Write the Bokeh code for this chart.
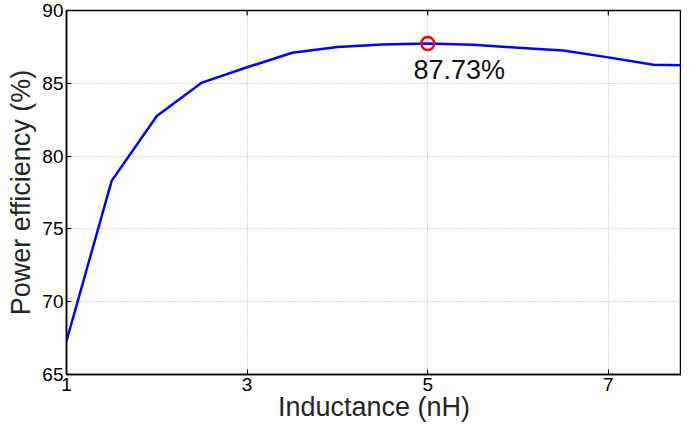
import math
from bokeh.plotting import figure
from bokeh.models import Range1d, FixedTicker, Label
from bokeh.embed import file_html
from bokeh.resources import INLINE

inductance = [1, 1.5, 2, 2.5, 3, 3.5, 4, 4.5, 5, 5.5, 6, 6.5, 7, 7.5, 8]
efficiency = [67.3, 78.3, 82.75, 85.05, 86.1, 87.1, 87.5, 87.67, 87.73,
              87.64, 87.45, 87.26, 86.78, 86.28, 86.22]
peak_x = [5]
peak_y = [87.73]
peak_label = "87.73%"
x_ticks = [1, 3, 5, 7]
y_ticks = [65, 70, 75, 80, 85, 90]
x_min, x_max = 1, 7.81
y_min, y_max = 65, 90

FONT = "Liberation Sans"

p = figure(width=681, height=424, output_backend="svg", toolbar_location=None,
           x_range=Range1d(x_min, x_max), y_range=Range1d(y_min, y_max),
           min_border_left=66, min_border_right=0, min_border_top=10,
           min_border_bottom=0, x_axis_label="Inductance (nH)",
           y_axis_label="Power efficiency (%)")

p.background_fill_color = "white"
p.border_fill_color = "white"
p.outline_line_color = "black"
p.outline_line_width = 1.5

p.xaxis.ticker = FixedTicker(ticks=x_ticks)
p.yaxis.ticker = FixedTicker(ticks=y_ticks)
for ax in (p.xaxis[0], p.yaxis[0]):
    ax.major_tick_in = 5
    ax.major_tick_out = 0
    ax.minor_tick_in = 0
    ax.minor_tick_out = 0
    ax.axis_line_color = "black"
    ax.axis_line_width = 1.5
    ax.major_tick_line_color = "black"
    ax.major_label_text_font = FONT
    ax.major_label_text_font_size = "19px"
    ax.major_label_text_color = "black"
    ax.axis_label_text_font = FONT
    ax.axis_label_text_font_size = "27px"
    ax.axis_label_text_font_style = "normal"
    ax.axis_label_text_color = "#262626"
p.xaxis.major_label_standoff = 3
p.yaxis.major_label_standoff = 3
p.xaxis.axis_label_standoff = -2
p.yaxis.axis_label_standoff = 3

p.xgrid.ticker = FixedTicker(ticks=x_ticks)
p.ygrid.ticker = FixedTicker(ticks=y_ticks)
p.grid.grid_line_color = "#b4b4b4"
p.grid.grid_line_dash = "1 2"
p.grid.grid_line_width = 1

# inward tick marks on the top edge of the frame
p.scatter(x_ticks, [y_max] * len(x_ticks), marker="dash", angle=math.pi / 2,
          size=10, line_color="black", line_width=1.2)

p.line(inductance, efficiency, line_color="#0000ff", line_width=2.5)
p.scatter(peak_x, peak_y, marker="circle", size=13, fill_color=None,
          line_color="#ff0000", line_width=2.5)

p.add_layout(Label(x=peak_x[0] + 0.35, y=peak_y[0] - 1.85, text=peak_label,
                   text_font=FONT, text_font_size="27px", text_color="#111111",
                   text_align="center", text_baseline="middle"))

open("out.html", "w").write(file_html(p, INLINE))
